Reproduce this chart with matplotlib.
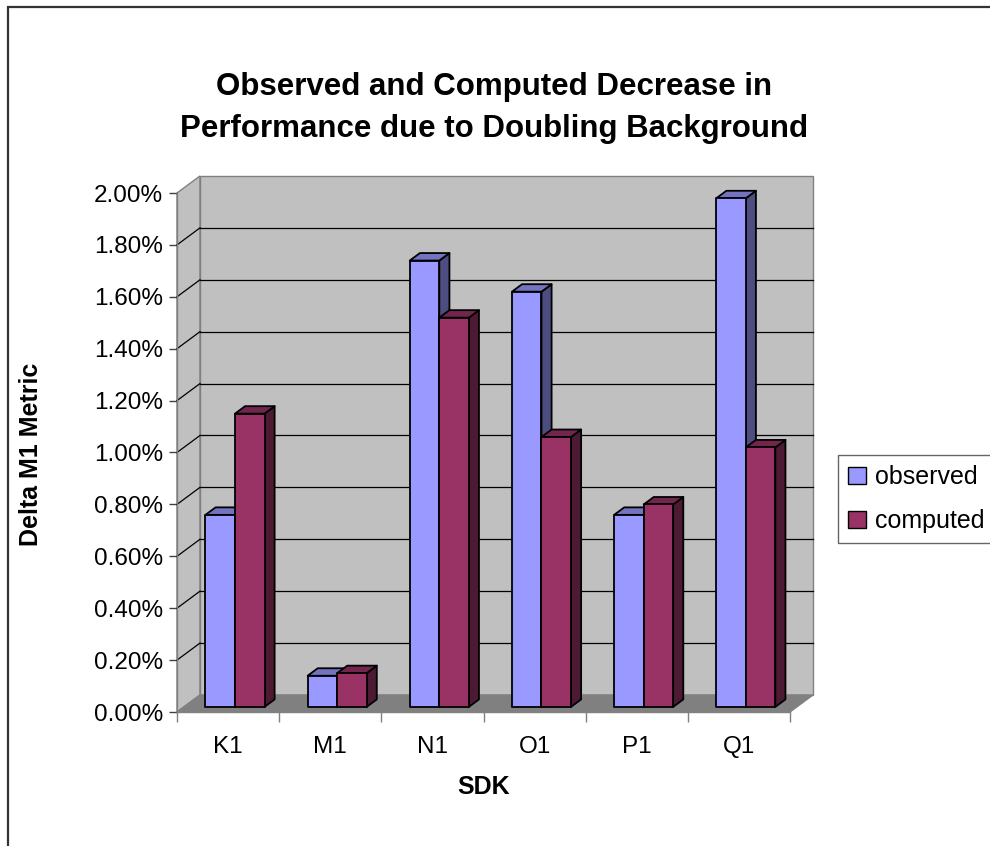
"""
3D-look clustered bar chart: observed vs computed decrease in M1 metric.
"""

import numpy as np
import matplotlib
matplotlib.use('Agg')
import matplotlib.pyplot as plt
from matplotlib.patches import Polygon, Rectangle, Patch
from matplotlib.ticker import FuncFormatter, FixedLocator

sdks = ['K1', 'M1', 'N1', 'O1', 'P1', 'Q1']
observed = [0.74, 0.12, 1.72, 1.60, 0.74, 1.96]   # percent
computed = [1.13, 0.13, 1.50, 1.04, 0.78, 1.00]   # percent
series = ['observed', 'computed']

front_cols = ['#9999FF', '#993366']
top_cols = ['#7373C0', '#73264D']
side_cols = ['#4D4D80', '#4D1A33']

plt.rcParams['font.family'] = ['Liberation Sans', 'DejaVu Sans']

W, H = 990, 846
fig = plt.figure(figsize=(W/100, H/100), dpi=100)
ax = fig.add_axes([177/W, 1 - 712/H, 613/W, 519/H])
ax.set_xlim(0, len(sdks))
ax.set_ylim(0, 2.0)
ax.patch.set_visible(False)

# depth of the box (in data units) and of the bars
DX, DY = 0.225, 0.0656
bw = 0.289
t0, t1 = 0.30, 0.74

n = len(sdks)
ymax = 2.0

# walls and floor
side = Polygon([(0, 0), (0, ymax), (DX, ymax + DY), (DX, DY)], closed=True,
               fc='#C0C0C0', ec='#808080', lw=1.0, clip_on=False, zorder=1)
back = Polygon([(DX, DY), (n + DX, DY), (n + DX, ymax + DY), (DX, ymax + DY)],
               closed=True, fc='#C0C0C0', ec='#808080', lw=1.0, clip_on=False, zorder=1)
floor = Polygon([(0, 0), (n, 0), (n + DX, DY), (DX, DY)], closed=True,
                fc='#808080', ec='#808080', lw=1.0, clip_on=False, zorder=2)
for p in (side, back, floor):
    ax.add_patch(p)

levels = np.arange(0.2, 1.81, 0.2)
for v in levels:
    ax.plot([DX, n + DX], [v + DY, v + DY], color='black', lw=0.9, clip_on=False, zorder=2)
    ax.plot([0, DX], [v, v + DY], color='black', lw=0.9, clip_on=False, zorder=2)

# bars
bdx, bdy = (t1 - t0) * DX, (t1 - t0) * DY
for i in range(n):
    for j, vals in enumerate([observed, computed]):
        v = vals[i]
        x0 = i + 0.5 - bw + j * bw + t0 * DX
        x1 = x0 + bw
        y0 = t0 * DY
        y1 = y0 + v
        kw = dict(ec='black', lw=1.3, clip_on=False, zorder=3, joinstyle='round')
        ax.add_patch(Polygon([(x1, y0), (x1 + bdx, y0 + bdy), (x1 + bdx, y1 + bdy), (x1, y1)],
                             fc=side_cols[j], **kw))
        ax.add_patch(Polygon([(x0, y1), (x1, y1), (x1 + bdx, y1 + bdy), (x0 + bdx, y1 + bdy)],
                             fc=top_cols[j], **kw))
        ax.add_patch(Rectangle((x0, y0), bw, v, fc=front_cols[j], **kw))

# axes
for s in ['top', 'right']:
    ax.spines[s].set_visible(False)
for s in ['left', 'bottom']:
    ax.spines[s].set_color('#808080')
    ax.spines[s].set_linewidth(1.0)
    ax.spines[s].set_zorder(4)

ax.yaxis.set_major_locator(FixedLocator(np.arange(0, 2.01, 0.2)))
ax.yaxis.set_major_formatter(FuncFormatter(lambda v, pos: '%.2f%%' % v))
ax.tick_params(axis='y', direction='out', length=6, width=1.0, color='#404040',
               pad=4, labelsize=17.5)

ax.xaxis.set_major_locator(FixedLocator(np.arange(0, n + 1)))
ax.xaxis.set_major_formatter(FuncFormatter(lambda v, pos: ''))
ax.xaxis.set_minor_locator(FixedLocator(np.arange(n) + 0.5))
ax.xaxis.set_minor_formatter(FuncFormatter(lambda v, pos: sdks[int(v)]))
ax.tick_params(axis='x', which='major', direction='out', length=7, width=1.0, color='#808080')
ax.tick_params(axis='x', which='minor', length=0, pad=17, labelsize=17.5)

fig.text(484/W, 1 - 787/H, 'SDK', ha='center', va='center', fontsize=18, fontweight='bold')
fig.text(31/W, 1 - 454/H, 'Delta M1 Metric', ha='center', va='center', rotation=90,
         fontsize=18, fontweight='bold')
fig.text(494/W, 1 - 108/H, 'Observed and Computed Decrease in\nPerformance due to Doubling Background',
         ha='center', va='center', fontsize=22.5, fontweight='bold', linespacing=1.5)

handles = [Patch(fc=front_cols[j], ec='black', lw=1.0) for j in range(2)]
fig.legend(handles, series, loc='upper left', bbox_to_anchor=(838/W, 1 - 455/H),
           fontsize=18, frameon=True, fancybox=False, edgecolor='#404040',
           handlelength=0.7, handleheight=0.7, handletextpad=0.4,
           labelspacing=0.8, borderpad=0.4, borderaxespad=0)

# chart area border (only left and top are inside the picture)
fig.add_artist(Rectangle((8/W, -0.1), 1.2, 1.1 - 7/H, transform=fig.transFigure,
                         fc='none', ec='#333333', lw=1.6, clip_on=False))

fig.savefig('out.png', dpi=100)
